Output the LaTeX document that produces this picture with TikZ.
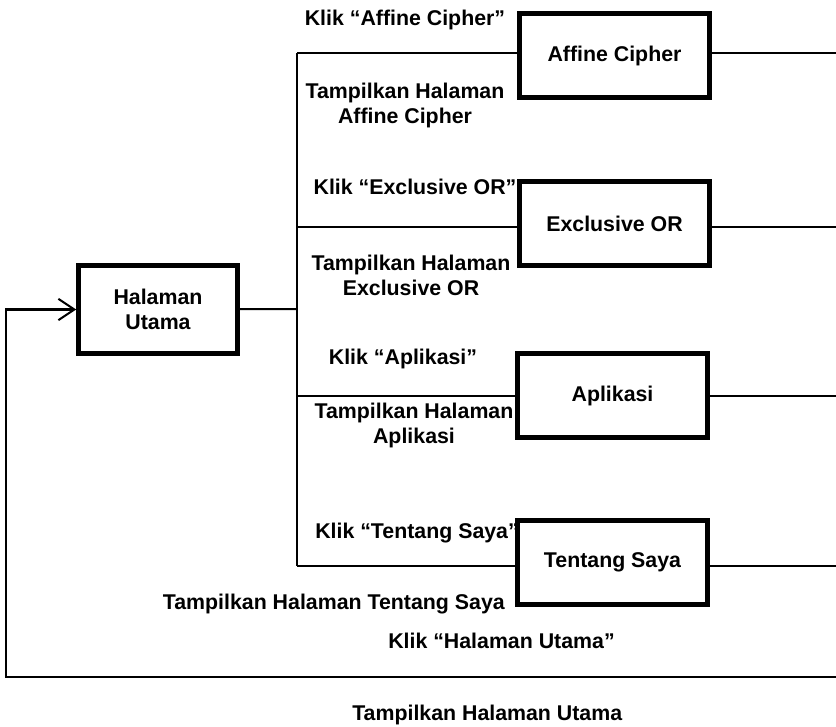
\documentclass[tikz,border=0pt]{standalone}
\usepackage{fontspec}
\setmainfont{Liberation Sans}
\usetikzlibrary{arrows.meta}

\begin{document}
\begin{tikzpicture}[x=0.75pt, y=-0.75pt,
    every node/.style={font=\bfseries\fontsize{16}{18.75}\selectfont},
    page/.style={draw, line width=3.75pt, fill=white, minimum width=142pt, minimum height=63pt, align=center},
    lbl/.style={inner sep=0pt, align=center},
    link/.style={line width=1.5pt}]
    \useasboundingbox (0,0) rectangle (836,727);
    % labels
    \node[lbl] (kAffine) at (405,20) {Klik “Affine Cipher”};
    \node[lbl] (tAffine) at (405,105) {Tampilkan Halaman\\Affine Cipher};
    \node[lbl] (kXor) at (415,187) {Klik “Exclusive OR”};
    \node[lbl] (tXor) at (411,275) {Tampilkan Halaman\\Exclusive OR};
    \node[lbl] (kApl) at (403,359) {Klik “Aplikasi”};
    \node[lbl] (tApl) at (414,425) {Tampilkan Halaman\\Aplikasi};
    \node[lbl, anchor=west] (kTentang) at (315,533) {Klik “Tentang Saya”};
    \node[lbl, anchor=east] (tTentang) at (505,604) {Tampilkan Halaman Tentang Saya};
    \node[lbl, anchor=west] (kHome) at (388,641) {Klik “Halaman Utama”};
    \node[lbl, anchor=west] (tHome) at (352,715) {Tampilkan Halaman Utama};
    \coordinate (hub) at (297,309);
    \coordinate (edge) at (836,0);
    \coordinate (loopL) at (6,677);
    \coordinate (loopR) at (836,677);
    \draw[link] (hub |- 0,53) -- (hub |- 0,566);
    \draw[link] (hub |- 0,53) -- (517,53);
    \draw[link] (hub |- 0,227) -- (517,227);
    \draw[link] (hub |- 0,396) -- (515,396);
    \draw[link] (hub |- 0,566) -- (515,566);
    % pages
    \node[page] (affine) at (614.5,55.5) {Affine Cipher};
    \node[page] (xor) at (614.5,224) {Exclusive OR};
    \node[page] (apl) at (612.5,396) {Aplikasi};
    \node[page] (tentang) at (612.5,562.5) {Tentang Saya};
    \node[page, minimum width=119pt, minimum height=66pt] (home) at (158,309.5) {Halaman\\Utama};
    \draw[link] (home) -- (hub);
    \draw[link] (affine.east |- 0,53) -- (edge |- 0,53);
    \draw[link] (xor.east |- 0,227) -- (edge |- 0,227);
    \draw[link] (apl) -- (apl -| edge);
    \draw[link] (tentang.east |- 0,566) -- (edge |- 0,566);
    \draw[link, line width=1.9pt, -{Straight Barb[length=12pt, width=16pt, line width=1.5pt]}] (loopR) -- (loopL) |- (home.west);
\end{tikzpicture}
\end{document}
